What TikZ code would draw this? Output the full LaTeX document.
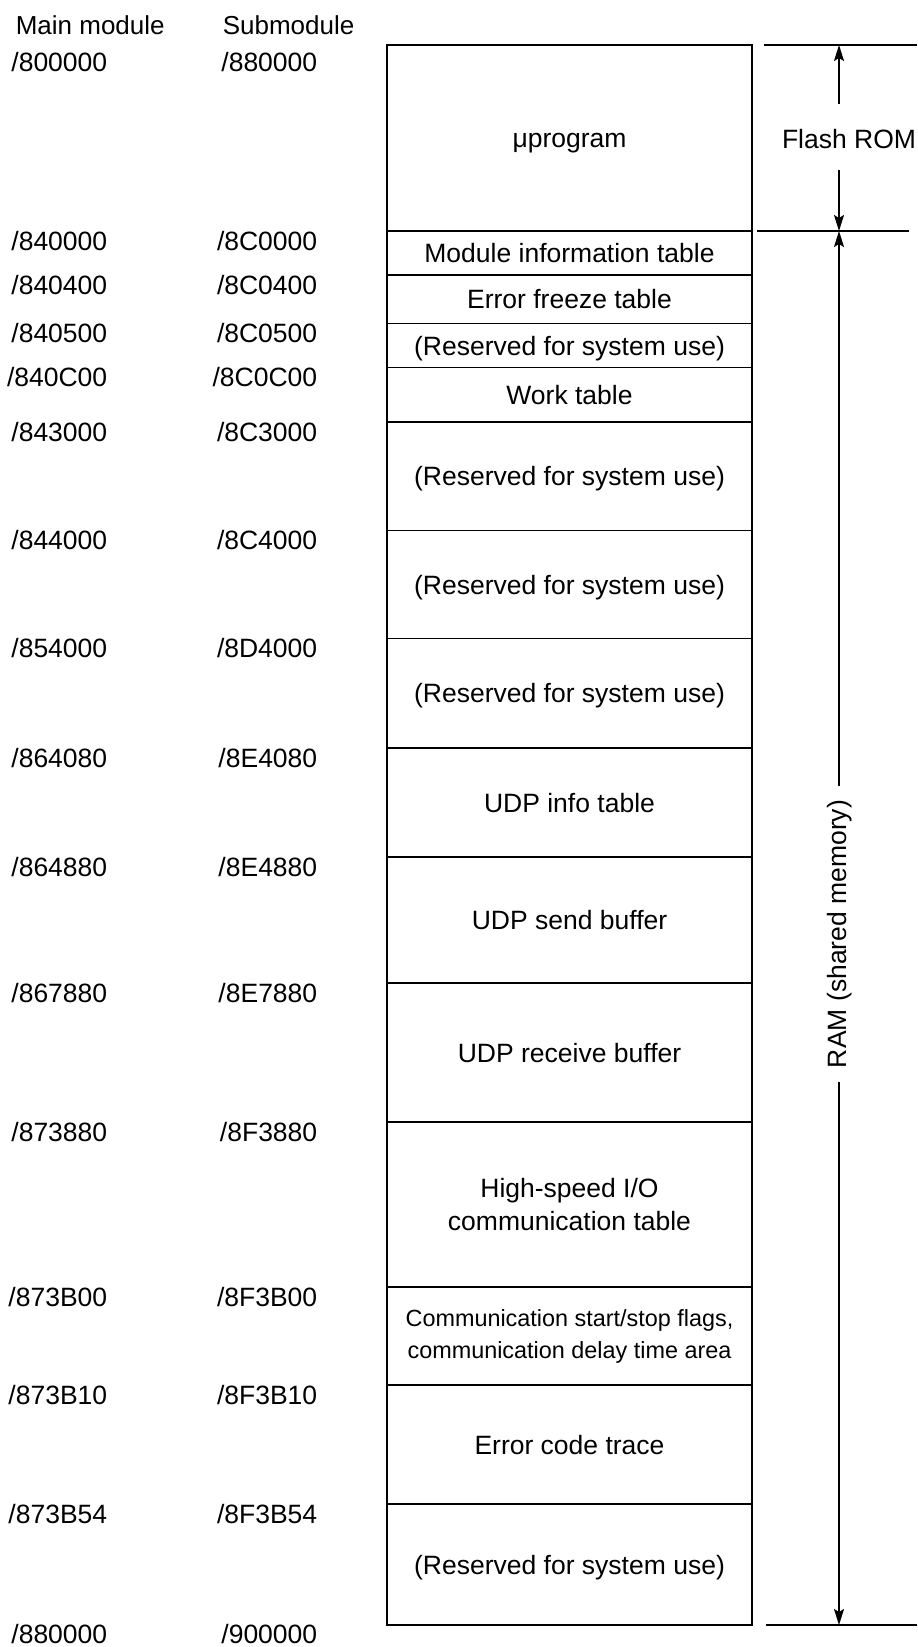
\documentclass[tikz,border=0pt]{standalone}
\usepackage{fontspec}
\setmainfont{Liberation Sans}
\usetikzlibrary{arrows.meta}
\begin{document}
\begin{tikzpicture}[x=1pt,y=-1pt,line width=1.6pt,
  cell/.style={draw,rectangle,inner sep=0pt,outer sep=0pt,minimum width=365pt,
    font=\fontsize{26.5}{33.5}\selectfont,align=center},
  one/.style={text height=19pt,text depth=0pt},
  addr/.style={anchor=base east,inner sep=0pt,font=\fontsize{26.5}{30}\selectfont},
  head/.style={anchor=base west,inner sep=0pt,font=\fontsize{26}{30}\selectfont},
  lbl/.style={inner sep=0pt,font=\fontsize{26.5}{30}\selectfont},
  tick/.style={line width=1.5pt},
  arr/.style={-{Stealth[length=16pt,width=10pt,inset=3pt]},line width=1.5pt}]
\useasboundingbox (0,0) rectangle (918,1647);

% headers
\node[head] (hmain) at (15,34) {Main module};
\node[head] (hsub) at (222,34) {Submodule};

% memory cells
\node[cell,one,minimum height=186pt] (c1) at (569.5,138) {μprogram};
\node[cell,one,minimum height=44pt] (c2) at (569.5,253) {Module information table};
\node[cell,one,minimum height=48.5pt] (c3) at (569.5,299.25) {Error freeze table};
\node[cell,one,minimum height=44.1pt] (c4) at (569.5,345.55) {(Reserved for system use)};
\node[cell,one,minimum height=54.4pt] (c5) at (569.5,394.8) {Work table};
\node[cell,one,minimum height=108.4pt] (c6) at (569.5,476.2) {(Reserved for system use)};
\node[cell,one,minimum height=108.2pt] (c7) at (569.5,584.5) {(Reserved for system use)};
\node[cell,one,minimum height=109.4pt] (c8) at (569.5,693.3) {(Reserved for system use)};
\node[cell,one,minimum height=109pt] (c9) at (569.5,802.5) {UDP info table};
\node[cell,one,minimum height=126pt] (c10) at (569.5,920) {UDP send buffer};
\node[cell,one,minimum height=139pt] (c11) at (569.5,1052.5) {UDP receive buffer};
\node[cell,minimum height=165pt] (c12) at (569.5,1204.5) {High-speed I/O\\communication table};
\node[cell,minimum height=98pt,font=\fontsize{23.4}{32}\selectfont] (c13) at (569.5,1336) {Communication start/stop flags,\\communication delay time area};
\node[cell,one,minimum height=119pt] (c14) at (569.5,1444.5) {Error code trace};
\node[cell,one,minimum height=121pt] (c15) at (569.5,1564.5) {(Reserved for system use)};

% addresses
\node[addr] (m0) at (108,71) {/800000};   \node[addr] (s0) at (318,71) {/880000};
\node[addr] (m1) at (108,250) {/840000};  \node[addr] (s1) at (318,250) {/8C0000};
\node[addr] (m2) at (108,294) {/840400};  \node[addr] (s2) at (318,294) {/8C0400};
\node[addr] (m3) at (108,342.5) {/840500};\node[addr] (s3) at (318,342.5) {/8C0500};
\node[addr] (m4) at (108,386.6) {/840C00};\node[addr] (s4) at (318,386.6) {/8C0C00};
\node[addr] (m5) at (108,441) {/843000};  \node[addr] (s5) at (318,441) {/8C3000};
\node[addr] (m6) at (108,549.4) {/844000};\node[addr] (s6) at (318,549.4) {/8C4000};
\node[addr] (m7) at (108,657.6) {/854000};\node[addr] (s7) at (318,657.6) {/8D4000};
\node[addr] (m8) at (108,767) {/864080};  \node[addr] (s8) at (318,767) {/8E4080};
\node[addr] (m9) at (108,876) {/864880};  \node[addr] (s9) at (318,876) {/8E4880};
\node[addr] (m10) at (108,1002) {/867880};\node[addr] (s10) at (318,1002) {/8E7880};
\node[addr] (m11) at (108,1141) {/873880};\node[addr] (s11) at (318,1141) {/8F3880};
\node[addr] (m12) at (108,1306) {/873B00};\node[addr] (s12) at (318,1306) {/8F3B00};
\node[addr] (m13) at (108,1404) {/873B10};\node[addr] (s13) at (318,1404) {/8F3B10};
\node[addr] (m14) at (108,1523) {/873B54};\node[addr] (s14) at (318,1523) {/8F3B54};
\node[addr] (m15) at (108,1643) {/880000};\node[addr] (s15) at (318,1643) {/900000};

% right-hand ranges
\coordinate (t0a) at (764,45);   \coordinate (t0b) at (917,45);
\coordinate (t1a) at (757,231);  \coordinate (t1b) at (909,231);
\coordinate (t2a) at (766,1625); \coordinate (t2b) at (917,1625);
\draw[tick] (t0a) -- (t0b);
\draw[tick] (t1a) -- (t1b);
\draw[tick] (t2a) -- (t2b);

\coordinate (ftop) at (839,45);
\coordinate (fbot) at (839,231);
\coordinate (rbot) at (839,1625);
\node[lbl] (flash) at (849,139) {Flash ROM};
\coordinate (fu) at (839,104);
\coordinate (fd) at (839,170);
\draw[arr] (fu) -- (ftop);
\draw[arr] (fd) -- (fbot);

\node[lbl,rotate=90,inner xsep=13pt] (ram) at (840,934) {RAM (shared memory)};
\draw[arr] (ram.east -| fbot) -- (fbot);
\draw[arr] (ram.west -| rbot) -- (rbot);
\end{tikzpicture}
\end{document}
